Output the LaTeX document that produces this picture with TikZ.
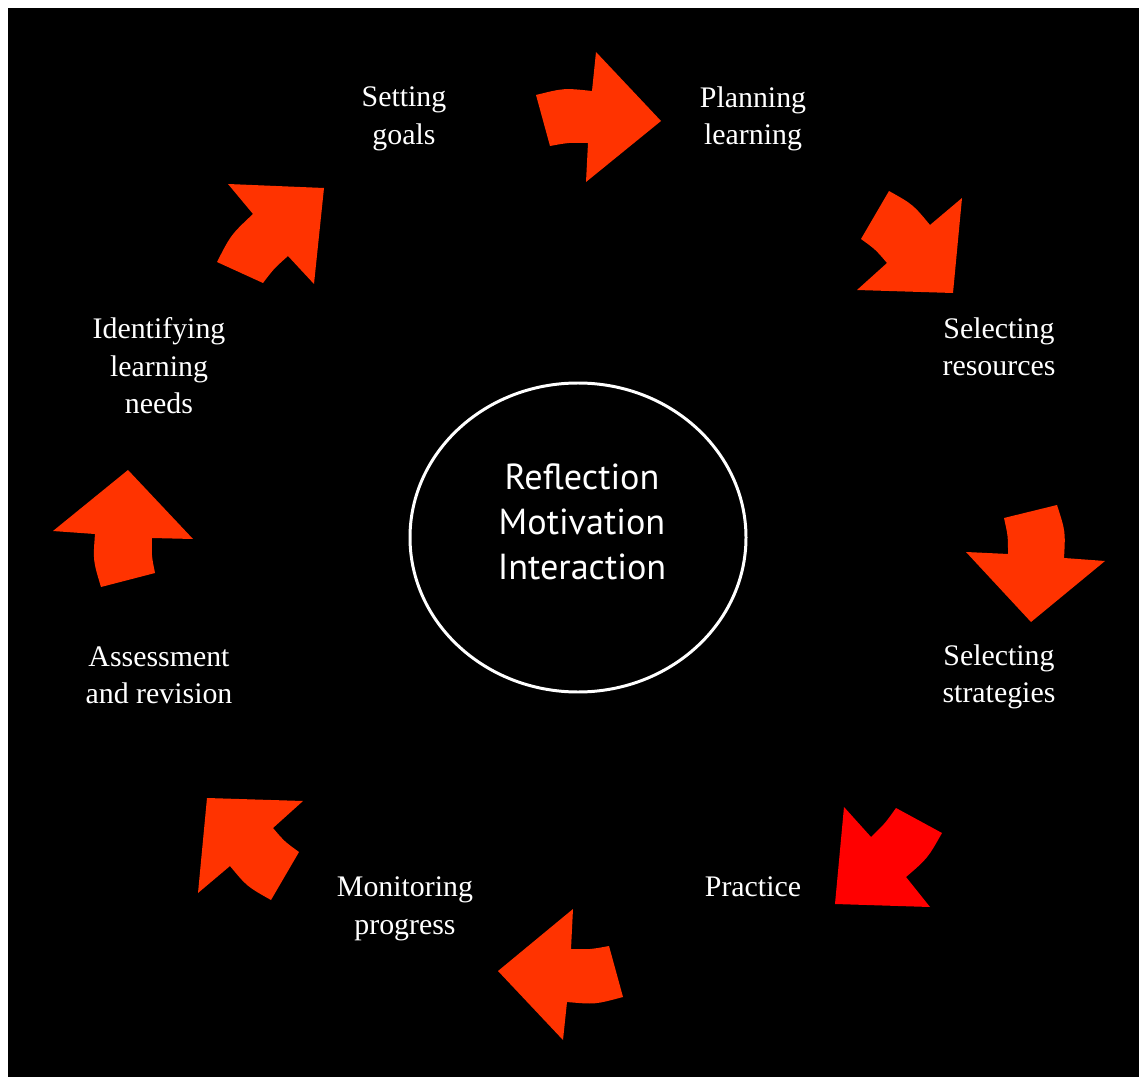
\documentclass[tikz,border=0pt]{standalone}
\usepackage{fontspec}
\usetikzlibrary{shapes.geometric}
\setmainfont{Liberation Serif}
\newfontfamily\ctrfont{PT Sans}
\definecolor{arrowor}{HTML}{FF3300}
\definecolor{arrowred}{HTML}{FF0000}
\begin{document}
\begin{tikzpicture}[x=0.02cm,y=-0.02cm,
  blockarrow/.style={fill=arrowor, draw=none},
  redarrow/.style={fill=arrowred, draw=none},
  lbl/.style={text=white, align=center, inner sep=0pt,
    font=\fontsize{17}{21.3}\selectfont},
  hub/.style={ellipse, draw=white, line width=1.7pt, minimum width=336*0.02cm,
    minimum height=309*0.02cm, inner sep=0pt},
  hubtext/.style={text=white, align=center, inner sep=0pt,
    font=\ctrfont\fontsize{20.6}{25.5}\selectfont}]
\useasboundingbox (0,0) rectangle (1139,1077);
\fill[white] (0,0) rectangle (1139,1077);
\fill[black] (8,8) rectangle (1139,1077);

% hub
\node[hub] (hub) at (578,537.5) {};
\node[hubtext] (hubtxt) at (582,522) {Reflection\\Motivation\\Interaction};

% labels
\node[lbl] (goals) at (404,119) {Setting\\goals};
\node[lbl] (plan) at (753,119) {Planning\\learning};
\node[lbl] (res) at (999,347) {Selecting\\resources};
\node[lbl] (strat) at (999,677) {Selecting\\strategies};
\node[lbl] (prac) at (753,887) {Practice};
\node[lbl] (mon) at (405,909) {Monitoring\\progress};
\node[lbl] (assess) at (159,675) {Assessment\\and revision};
\node[lbl] (needs) at (159,366) {Identifying\\learning\\needs};

% arrows
% 1 top, pointing right
\fill[blockarrow] (536,95) .. controls (564,88) .. (592,91) -- (596,52) -- (661,121)
  -- (586,182) -- (588,143) .. controls (569,142.5) .. (550,146) -- cycle;
% 2 upper right, pointing down-right
\fill[blockarrow] (889,191) .. controls (913,204.5) .. (930,225) -- (962,198) -- (953,293)
  -- (857,290) -- (887,263) .. controls (875.5,249.5) .. (861,239) -- cycle;
% 3 right, pointing down
\fill[blockarrow] (1004,518) -- (1057,505) .. controls (1065.5,531.5) .. (1064,558)
  -- (1105,561) -- (1031,622) -- (966,552) -- (1008,554) .. controls (1008,536) .. cycle;
% 4 lower right, pointing down-left
\fill[redarrow] (844,807) -- (871,837) .. controls (885,823.5) .. (896,808) -- (942,833)
  .. controls (927.5,858.5) .. (906,877) -- (930,907) -- (835,904) -- cycle;
% 5 bottom, pointing left
\fill[blockarrow] (573,909) -- (571,949) .. controls (590,949.5) .. (609,946) -- (623,997)
  .. controls (595,1004.5) .. (567,1002) -- (563,1040) -- (498,971) -- cycle;
% 6 lower left, pointing up-left
\fill[blockarrow] (207,798) -- (303,801) -- (273,828) .. controls (284.5,841.5) .. (299,852)
  -- (271,900) .. controls (247,886.5) .. (230,866) -- (198,893) -- cycle;
% 7 left, pointing up
\fill[blockarrow] (53,531) -- (128,470) -- (193,539) -- (152,538) .. controls (151.5,555.5) .. (155,573)
  -- (101,587) .. controls (93,560.5) .. (95,534) -- cycle;
% 8 upper left, pointing up-right
\fill[blockarrow] (228,184) -- (324,188) -- (314,284) -- (288,256) .. controls (274,268.5) .. (263,283)
  -- (217,262) .. controls (231,234.7) .. (253,214) -- cycle;
\end{tikzpicture}
\end{document}
